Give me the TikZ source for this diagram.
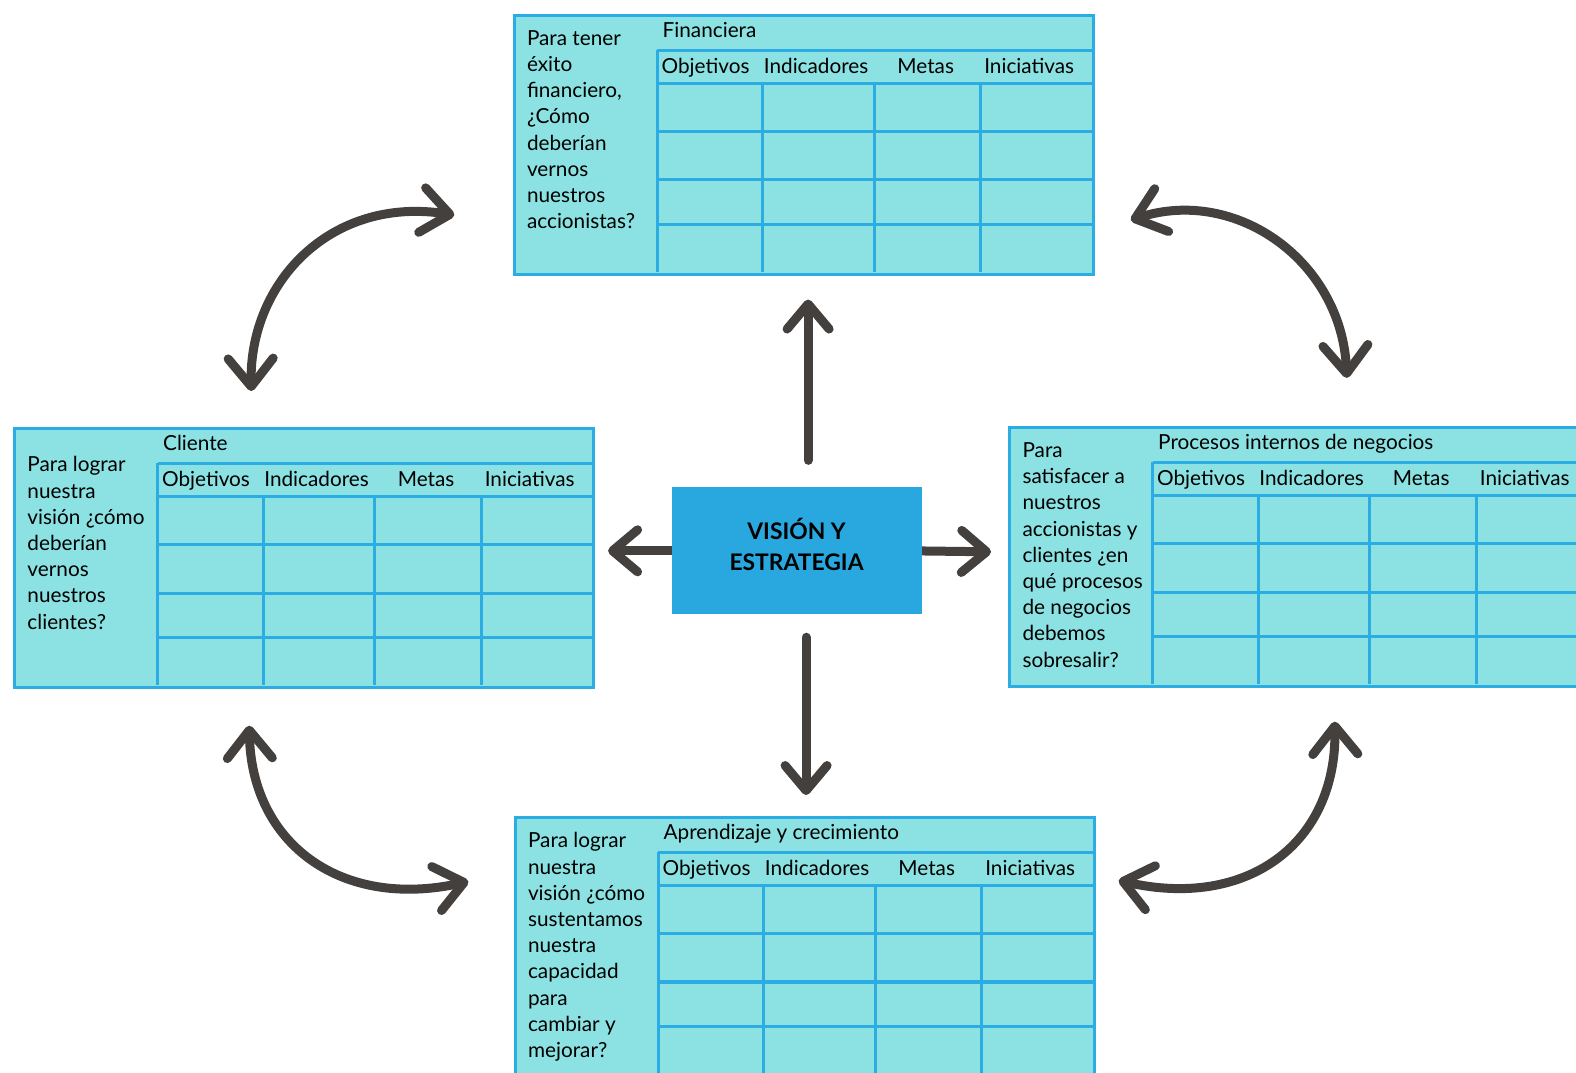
\documentclass[tikz,border=0pt]{standalone}
\usepackage{fontspec}
\setmainfont{Lato}
\usetikzlibrary{arrows.meta}

\definecolor{celda}{RGB}{140,226,226}
\definecolor{borde}{RGB}{43,172,226}
\definecolor{centro}{RGB}{41,168,224}
\definecolor{gris}{RGB}{67,64,62}

% #1 nombre, #2 x, #3 y, #4 titulo, #5 y de la pregunta, #6 pregunta
\newcommand{\tabla}[6]{%
  \begin{scope}[shift={(#2,#3)}]
    \node[marco, anchor=north west] (#1) at (0,0) {};
    \draw[rejilla] (144,36) -- (144,257) (144,36) -- (576,36);
    \foreach \y in {69,117,165,209} \draw[rejilla] (144,\y) -- (576,\y);
    \foreach \x in {249,360,466} \draw[rejilla] (\x,69) -- (\x,257);
    \node[titulo] (#1-t) at (149,23) {#4};
    \foreach \x/\t [count=\i] in {192/Objetivos,302/Indicadores,411/Metas,514/Iniciativas}
      \node[cabecera] (#1-h\i) at (\x,59) {\t};
    \node[pregunta] (#1-q) at (14,#5) {#6};
  \end{scope}}

\begin{document}
\begin{tikzpicture}[x=0.0201cm, y=-0.0201cm,
    font=\fontsize{11.8}{14.9}\selectfont,
    marco/.style={draw=borde, fill=celda, line width=0.06cm, inner sep=0pt,
      minimum width=11.58cm, minimum height=5.17cm},
    rejilla/.style={draw=borde, line width=0.06cm},
    titulo/.style={anchor=base west, inner sep=0pt},
    cabecera/.style={anchor=base, inner sep=0pt},
    pregunta/.style={anchor=north west, align=left, inner sep=0pt},
    vision/.style={fill=centro, minimum width=5cm, minimum height=2.55cm,
      align=center, text depth=0.25cm, font=\bfseries\fontsize{13}{17.5}\selectfont},
    flecha/.style={draw=gris, line width=0.18cm, line cap=round},
    punta/.style={-{Straight Barb[length=0.5cm,width=0.84cm,round]}},
    dospuntas/.style={{Straight Barb[length=0.56cm,width=0.9cm,round]}-{Straight Barb[length=0.56cm,width=0.9cm,round]}}]
  \useasboundingbox (0,0) rectangle (1568,1067);
  \clip (0,0) rectangle (1568,1067);

  \tabla{fin}{510}{14}{Financiera}{16}{Para tener\\éxito\\financiero,\\¿Cómo\\deberían\\vernos\\nuestros\\accionistas?}
  \tabla{cli}{13}{425}{Cliente}{29}{Para lograr\\nuestra\\visión ¿cómo\\deberían\\vernos\\nuestros\\clientes?}
  \tabla{pro}{1003}{424}{Procesos internos de negocios}{16}{Para\\satisfacer a\\nuestros\\accionistas y\\clientes ¿en\\qué procesos\\de negocios\\debemos\\sobresalir?}
  \tabla{apr}{511}{812}{Aprendizaje y crecimiento}{16}{Para lograr\\nuestra\\visión ¿cómo\\sustentamos\\nuestra\\capacidad\\para\\cambiar y\\mejorar?}

  \coordinate (up0) at (804,458);  \coordinate (up1) at (804,298);
  \coordinate (dn0) at (802,634);  \coordinate (dn1) at (802,791);
  \coordinate (iz0) at (680,548);  \coordinate (iz1) at (605,548);
  \coordinate (de0) at (905,548);  \coordinate (de1) at (986,549);
  \draw[flecha, punta] (up0) -- (up1);
  \draw[flecha, punta] (dn0) -- (dn1);
  \draw[flecha, punta] (iz0) -- (iz1);
  \draw[flecha, punta] (de0) -- (de1);

  \node[vision] (vis) at (792.5,547.5) {VISIÓN Y\\ESTRATEGIA};

  \coordinate (c1a) at (250,389);  \coordinate (c1b) at (452,214);
  \coordinate (c2a) at (1125,219); \coordinate (c2b) at (1340,376);
  \coordinate (c3a) at (248,722);  \coordinate (c3b) at (466,877);
  \coordinate (c4a) at (1328,718); \coordinate (c4b) at (1113,876);
  \draw[flecha, dospuntas] (c1a) .. controls (248,280) and (330,195) .. (c1b);
  \draw[flecha, dospuntas] (c2a) .. controls (1230,185) and (1335,260) .. (c2b);
  \draw[flecha, dospuntas] (c3a) .. controls (250,840) and (340,905) .. (c3b);
  \draw[flecha, dospuntas] (c4a) .. controls (1330,840) and (1240,905) .. (c4b);
\end{tikzpicture}
\end{document}
